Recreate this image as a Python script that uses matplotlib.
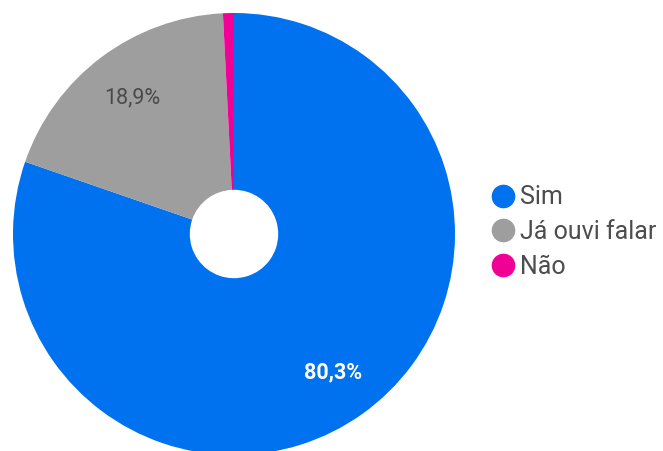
import matplotlib
matplotlib.use('Agg')
import matplotlib.pyplot as plt
from matplotlib.lines import Line2D

plt.rcParams['font.family'] = ['Roboto', 'DejaVu Sans']

labels = ['Sim', 'Já ouvi falar', 'Não']
values = [80.3, 18.9, 0.8]
colors = ['#0072f0', '#9e9e9e', '#f10096']
pct_colors = ['white', '#4a4a4a', 'white']
pct_weights = ['bold', 'normal', 'normal']


def fmt_pct(p):
    if p < 2:
        return ''
    return ('%.1f%%' % p).replace('.', ',')


fig = plt.figure(figsize=(6.63, 4.51), dpi=100)
ax = fig.add_axes([0, 0, 1, 1])

wedges, texts, autotexts = ax.pie(values, colors=colors, startangle=90, counterclock=False,
                                  center=(234, 217), radius=221, autopct=fmt_pct,
                                  pctdistance=0.77, wedgeprops=dict(width=221 * 0.8, linewidth=0),
                                  textprops=dict(fontsize=15.5))
for t, c, w in zip(autotexts, pct_colors, pct_weights):
    t.set_color(c)
    t.set_fontweight(w)

ax.set_xlim(0, 663)
ax.set_ylim(0, 451)
ax.set_aspect('equal')
ax.axis('off')

handles = [Line2D([], [], linestyle='none', marker='o', markersize=16,
                  markerfacecolor=c, markeredgecolor=c) for c in colors]
leg = fig.legend(handles, labels, loc='center left', bbox_to_anchor=(490 / 663, 1 - 232 / 451),
                 frameon=False, fontsize=18, handlelength=1.0, handletextpad=0.2,
                 labelspacing=0.42, borderpad=0, borderaxespad=0)
for t in leg.get_texts():
    t.set_color('#4d4d4d')

fig.savefig('out.png', dpi=100)
